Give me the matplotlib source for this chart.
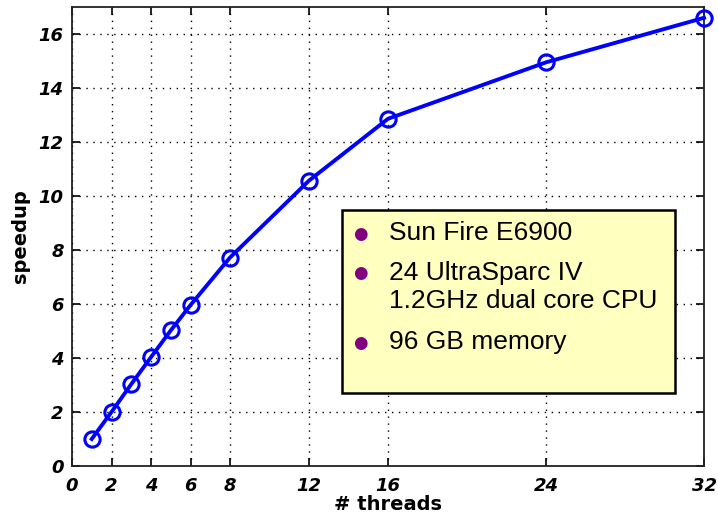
import matplotlib
matplotlib.use("Agg")
import matplotlib.pyplot as plt
from matplotlib.patches import Rectangle

threads = [1, 2, 3, 4, 5, 6, 8, 12, 16, 24, 32]
speedup = [1.0, 2.0, 3.03, 4.03, 5.02, 5.96, 7.72, 10.57, 12.86, 14.95, 16.6]
xticks = [0, 2, 4, 6, 8, 12, 16, 24, 32]
yticks = [0, 2, 4, 6, 8, 10, 12, 14, 16]
info_items = ["Sun Fire E6900", "24 UltraSparc IV\n1.2GHz dual core CPU", "96 GB memory"]

plt.rcParams['font.family'] = ['Liberation Sans', 'DejaVu Sans']

fig = plt.figure(figsize=(7.18, 5.18), dpi=100)
ax = fig.add_axes([72/718, 1-466/518, (704-72)/718, (466-7)/518])

ax.plot(threads, speedup, color='#0000FF', lw=2.8, marker='o', ms=11,
        mfc='none', mec='#0000FF', mew=2.2, zorder=3, clip_on=False)

ax.set_xlim(0, 32)
ax.set_ylim(0, 17)
ax.set_xticks(xticks)
ax.set_yticks(yticks)
ax.grid(True, linestyle=(0, (1, 4)), color='black', lw=1.0)
ax.tick_params(direction='in', length=6, width=1.2, top=True, right=True,
               labelsize=13, colors='black')
ax.tick_params(axis='x', pad=8)
ax.tick_params(axis='y', pad=6)
for lab in ax.get_xticklabels() + ax.get_yticklabels():
    lab.set_fontstyle('italic')
    lab.set_fontweight('bold')
    lab.set_family('DejaVu Sans')
for s in ax.spines.values():
    s.set_linewidth(1.3)
    s.set_color('#222222')

ax.set_xlabel('# threads', fontsize=14, fontweight='bold', family='DejaVu Sans', labelpad=0)
ax.set_ylabel('speedup', fontsize=14, fontweight='bold', family='DejaVu Sans', labelpad=6)

# info box
bx0, bx1 = 342/718, 675/718
by0, by1 = 1-393/518, 1-210/518
fig.patches.append(Rectangle((bx0, by0), bx1-bx0, by1-by0, transform=fig.transFigure,
                             facecolor='#FFFFC0', edgecolor='black', lw=1.8, zorder=5))
text_y = [233, 287, 342]
bullet_y = [234, 273, 343]
for item, ty, byy in zip(info_items, text_y, bullet_y):
    fig.text(389/718, 1-ty/518, item, fontsize=19, va='center', ha='left',
             linespacing=1.25, color='black', zorder=6)
    fig.text(360/718, 1-byy/518, '\u25CF', fontsize=12, va='center', ha='center',
             color='#800080', family='DejaVu Sans', zorder=6)

fig.savefig('out.png', dpi=100)
